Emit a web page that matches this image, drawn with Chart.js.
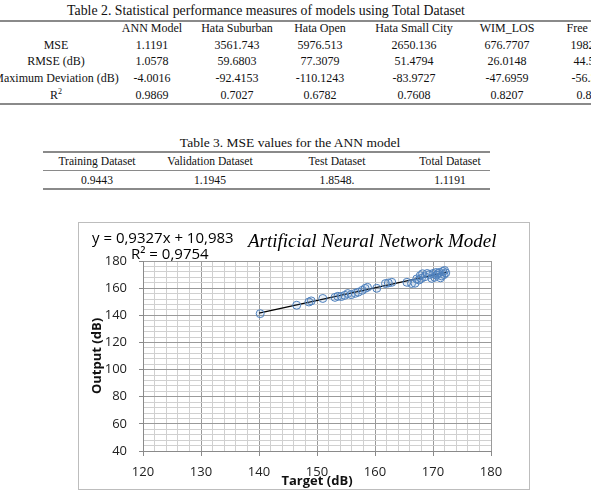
<!DOCTYPE html>
<html>
<head>
<meta charset="utf-8">
<script src="https://cdn.jsdelivr.net/npm/chart.js@4.4.1/dist/chart.umd.min.js"></script>
<style>
  html, body { margin: 0; padding: 0; background: #fff; overflow: hidden; }
  body { width: 591px; height: 493px; position: relative; font-family: "Liberation Serif", "Times New Roman", serif; color: #111; }
  .t { position: absolute; white-space: nowrap; transform: translate(-50%, -50%); }
  .title { font-size: 13.8px; }
  .title3 { font-size: 13.5px; }
  .cell { font-size: 12px; }
  .cell3 { font-size: 11.6px; }
  .rule { position: absolute; background: #8a8a8a; }
  #box { position: absolute; left: 78px; top: 222px; width: 452px; height: 268px; box-sizing: border-box; border: 1px solid #bdbdbd; }
  #c { position: absolute; left: 79px; top: 223px; }
  .eq { position: absolute; font-family: "Open Sans", sans-serif; font-size: 15px; color: #000; white-space: nowrap; transform: translateY(-50%); }
  .ctitle { position: absolute; font-family: "Liberation Serif", serif; font-style: italic; font-size: 19px; color: #000; white-space: nowrap; transform: translateY(-50%); }
</style>
</head>
<body>
<div id="box"></div>
<canvas id="c" width="450" height="266"></canvas>
<div class="eq" style="left:92px; top:237px;">y = 0,9327x + 10,983</div>
<div class="eq" style="left:131px; top:253px;">R² = 0,9754</div>
<div class="ctitle" style="left:248px; top:241px;">Artificial Neural Network Model</div>
<script>
// Table 2
const t2Title = 'Table 2. Statistical performance measures of models using Total Dataset';
const t2Header = ['', 'ANN Model', 'Hata Suburban', 'Hata Open', 'Hata Small City', 'WIM_LOS', 'Free Space'];
const t2Rows = [
  ['MSE', '1.1191', '3561.743', '5976.513', '2650.136', '676.7707', '1982.071'],
  ['RMSE (dB)', '1.0578', '59.6803', '77.3079', '51.4794', '26.0148', '44.5203'],
  ['Maximum Deviation (dB)', '-4.0016', '-92.4153', '-110.1243', '-83.9727', '-47.6959', '-56.3417'],
  ['R<sup style="font-size:8px">2</sup>', '0.9869', '0.7027', '0.6782', '0.7608', '0.8207', '0.8315']
];
// Table 3
const t3Title = 'Table 3. MSE values for the ANN model';
const t3Header = ['Training Dataset', 'Validation Dataset', 'Test Dataset', 'Total Dataset'];
const t3Row = ['0.9443', '1.1945', '1.8548.', '1.1191'];

// Chart data
const targetX = [140.2, 146.5, 148.6, 149.0, 151.0, 153.1, 153.6, 154.2, 154.8, 155.3, 155.9, 156.6, 157.1, 157.8,
  158.3, 158.7, 160.3, 161.8, 162.3, 162.9, 165.5, 166.3, 166.9, 167.2, 167.6, 167.8, 168.0, 168.2, 168.6, 169.0,
  169.4, 169.8, 170.0, 170.3, 170.5, 170.6, 170.9, 171.1, 171.3, 171.5, 171.7, 171.9, 172.0, 172.2];
const outputY = [141.2, 147.4, 149.8, 150.6, 152.4, 153.2, 154.0, 153.8, 154.7, 156.0, 155.2, 156.2, 157.0, 158.4,
  159.8, 160.6, 159.9, 163.4, 163.8, 164.3, 164.3, 163.4, 163.6, 166.8, 166.0, 169.2, 167.2, 170.6, 168.4, 170.8,
  170.0, 167.2, 170.8, 168.0, 171.5, 169.6, 170.8, 171.6, 167.6, 169.0, 172.3, 170.0, 173.0, 171.2];
const trendX = [140, 172.4];
const trendY = [141.6, 171.8];
const xTicks = [120, 130, 140, 150, 160, 170, 180];
const yTicks = [40, 60, 80, 100, 120, 140, 160, 180];

function put(text, cx, cy, cls) {
  const d = document.createElement('div');
  d.className = 't ' + cls;
  d.style.left = cx + 'px';
  d.style.top = cy + 'px';
  d.innerHTML = text;
  document.body.appendChild(d);
}
function rule(x, y, w, h) {
  const d = document.createElement('div');
  d.className = 'rule';
  d.style.cssText = `left:${x}px;top:${y}px;width:${w}px;height:${h}px`;
  document.body.appendChild(d);
}

put(t2Title, 266, 11, 'title');
const t2Cols = [56, 152, 237, 320, 414, 507, 593];
const t2RowY = [45, 61, 78, 95];
rule(0, 20, 591, 2);
t2Header.forEach((h, i) => put(h, t2Cols[i], 28, 'cell'));
t2Rows.forEach((r, j) => r.forEach((v, i) => put(v, t2Cols[i], t2RowY[j], 'cell')));
rule(0, 103, 591, 2);

put(t3Title, 290, 143, 'title3');
const t3Cols = [97, 210, 337, 450];
rule(43, 151, 447, 2);
t3Header.forEach((h, i) => put(h, t3Cols[i], 161, 'cell3'));
rule(43, 170, 447, 1);
t3Row.forEach((v, i) => put(v, t3Cols[i], 180, 'cell3'));
rule(43, 188, 447, 2);

const points = targetX.map((x, i) => ({ x: x, y: outputY[i] }));
const trend = trendX.map((x, i) => ({ x: x, y: trendY[i] }));

const majorX = v => xTicks.includes(v);
const majorY = v => yTicks.includes(v);

new Chart(document.getElementById('c'), {
  type: 'scatter',
  data: {
    datasets: [
      {
        data: points,
        pointRadius: 4,
        pointBorderWidth: 1,
        borderColor: '#4f81bd',
        backgroundColor: 'rgba(79,129,189,0.12)'
      },
      {
        type: 'line',
        data: trend,
        borderColor: '#000',
        borderWidth: 1.3,
        pointRadius: 0,
        fill: false
      }
    ]
  },
  options: {
    responsive: false,
    animation: false,
    devicePixelRatio: 1,
    layout: { padding: { left: 8, top: 38, right: 38, bottom: 0 } },
    plugins: { legend: { display: false }, tooltip: { enabled: false } },
    scales: {
      x: {
        type: 'linear', min: 120, max: 180,
        afterFit: s => { s.height = 38; },
        ticks: {
          stepSize: 2, autoSkip: false, maxRotation: 0, padding: 8,
          font: { family: 'Open Sans', size: 13 }, color: '#222',
          callback: v => majorX(v) ? v : ''
        },
        grid: {
          color: c => majorX(c.tick.value) ? '#9a9a9a' : '#d0d0d0',
          tickColor: c => majorX(c.tick.value) ? '#8a8a8a' : 'rgba(0,0,0,0)',
          tickLength: 5
        },
        border: { color: '#8a8a8a' },
        title: { display: true, text: 'Target (dB)', font: { family: 'Open Sans', size: 13, weight: 'bold' }, color: '#111', padding: { top: 0, bottom: 0 } }
      },
      y: {
        type: 'linear', min: 40, max: 180,
        afterFit: s => { s.width = 56; },
        ticks: {
          stepSize: 4, autoSkip: false, padding: 12,
          font: { family: 'Open Sans', size: 13 }, color: '#222',
          callback: v => majorY(v) ? v : ''
        },
        grid: {
          color: c => majorY(c.tick.value) ? '#9a9a9a' : '#d0d0d0',
          tickColor: c => majorY(c.tick.value) ? '#8a8a8a' : 'rgba(0,0,0,0)',
          tickLength: 4
        },
        border: { color: '#8a8a8a' },
        title: { display: true, text: 'Output (dB)', font: { family: 'Open Sans', size: 13, weight: 'bold' }, color: '#111', padding: { top: 2, bottom: 2 } }
      }
    }
  }
});
</script>
</body>
</html>
